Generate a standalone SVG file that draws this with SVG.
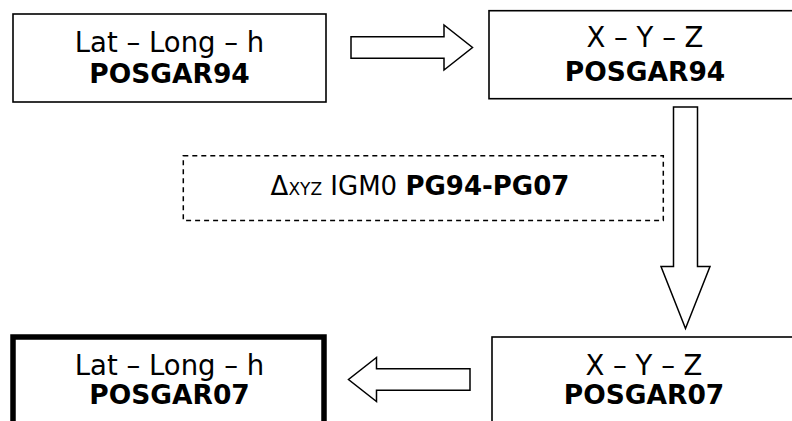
<svg xmlns="http://www.w3.org/2000/svg" width="792" height="421" viewBox="0 0 792 421">
<style>
.box{fill:#fff;stroke:#000;stroke-width:1.6}
.thick{stroke-width:5.5}
.dash{stroke-width:1.5;stroke-dasharray:5 4}
.arrow{fill:#fff;stroke:#000;stroke-width:1.5;stroke-linejoin:miter}
.t{font-family:"DejaVu Sans",Verdana,sans-serif;font-size:27.5px;text-anchor:middle;fill:#000}
.b{font-weight:bold;font-size:26.5px}
.d{font-family:"DejaVu Sans",Verdana,sans-serif;font-size:26px;text-anchor:middle;fill:#000}
</style>
<rect width="792" height="421" fill="#fff"/>
<g id="connectors">
<polygon class="arrow" points="351,36.7 444,36.7 444,25 472.5,47.5 444,70 444,58.3 351,58.3"/>
<polygon class="arrow" points="673.5,107 697.5,107 697.5,266.5 710,266.5 685.5,328.5 661,266.5 673.5,266.5"/>
<polygon class="arrow" points="470,368.7 376.5,368.7 376.5,357.5 348.5,379.5 376.5,401.5 376.5,390.3 470,390.3"/>
</g>
<g id="node-latlong94">
<rect class="box" x="13" y="14" width="313" height="88"/>
<text class="t" x="169.5" y="52">Lat – Long – h</text>
<text class="t b" x="169.5" y="83">POSGAR94</text>
</g>
<g id="node-xyz94">
<rect class="box" x="489" y="10.7" width="320" height="88"/>
<text class="t" x="645" y="46.7">X – Y – Z</text>
<text class="t b" x="645" y="81">POSGAR94</text>
</g>
<g id="node-delta">
<rect class="box dash" x="183.3" y="155.7" width="480" height="64.8"/>
<text class="d" x="420" y="195">Δ<tspan font-size="17">XYZ</tspan> IGM0 <tspan font-weight="bold">PG94-PG07</tspan></text>
</g>
<g id="node-xyz07">
<rect class="box" x="492" y="337" width="320" height="100"/>
<text class="t" x="644" y="375">X – Y – Z</text>
<text class="t b" x="644" y="404">POSGAR07</text>
</g>
<g id="node-latlong07">
<rect class="box thick" x="13" y="337" width="311" height="100"/>
<text class="t" x="169.5" y="375">Lat – Long – h</text>
<text class="t b" x="169.5" y="404">POSGAR07</text>
</g>
</svg>
